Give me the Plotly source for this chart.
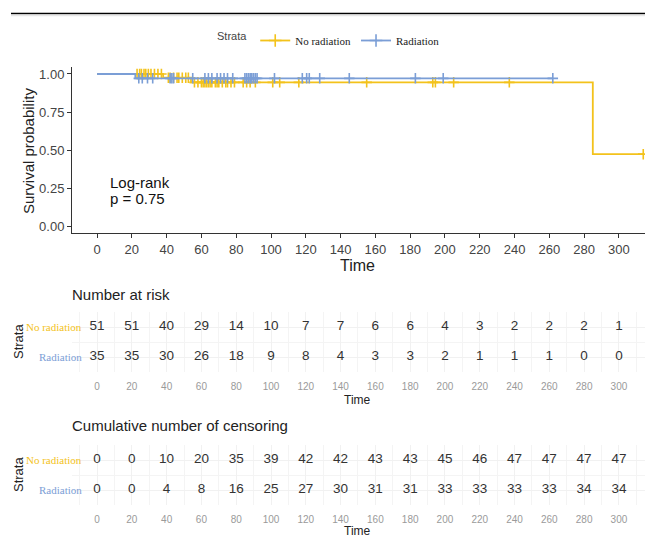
import plotly.graph_objects as go

W, H = 645, 537

# ---------------- data ----------------
groups = ["No radiation", "Radiation"]
colors = {"No radiation": "#F3C21B", "Radiation": "#7B9ED6"}

nr_event_times = [38, 54, 285]
nr_censor_times = [23, 24.5, 25.5, 27, 28, 29.5, 31, 33, 35, 37,
                   41, 42, 44, 46, 47, 49, 51, 52.5, 56, 58,
                   60, 61, 62, 63, 64, 65, 66, 68, 69, 70, 72, 74, 75, 77, 79,
                   84, 86, 88, 91, 101, 105, 116, 155, 193, 194.5, 205, 237, 314]
r_event_times = [22]
r_censor_times = [24, 26, 29, 32, 42, 43, 44, 55,
                  62, 64, 66, 69, 71, 73, 75, 78,
                  85, 86, 87, 88, 88.5, 89, 90, 91, 92,
                  102, 118, 120.5, 122, 128, 145, 183, 199, 262]

table_times = list(range(0, 301, 20))
risk_no = [51, 51, 40, 29, 14, 10, 7, 7, 6, 6, 4, 3, 2, 2, 2, 1]
risk_rad = [35, 35, 30, 26, 18, 9, 8, 4, 3, 3, 2, 1, 1, 1, 0, 0]
cens_no = [0, 0, 10, 20, 35, 39, 42, 42, 43, 43, 45, 46, 47, 47, 47, 47]
cens_rad = [0, 0, 4, 8, 16, 25, 27, 30, 31, 31, 33, 33, 33, 33, 34, 34]

y_ticks = [0, 0.25, 0.5, 0.75, 1.0]
y_ticktext = ["0.00", "0.25", "0.50", "0.75", "1.00"]
pval_text = ["Log-rank", "p = 0.75"]


def km(events, censors):
    times = sorted(set(events) | set(censors))
    at_risk = len(events) + len(censors)
    s = 1.0
    xs, ys, cx, cy = [0], [1.0], [], []
    for t in times:
        d = events.count(t)
        c = censors.count(t)
        if d:
            s *= (1 - d / at_risk)
            xs.append(t)
            ys.append(s)
        if c:
            cx += [t] * c
            cy += [s] * c
        at_risk -= d + c
    xs.append(max(times))
    ys.append(s)
    return xs, ys, cx, cy


SANS = "Liberation Sans, Arial, sans-serif"
SERIF = "Liberation Serif, serif"

fig = go.Figure()

curves = {
    "No radiation": km(nr_event_times, nr_censor_times),
    "Radiation": km(r_event_times, r_censor_times),
}

for g in groups:
    xs, ys, cx, cy = curves[g]
    fig.add_trace(go.Scatter(
        x=xs, y=ys, mode="lines", line=dict(color=colors[g], width=1.8, shape="hv"),
        showlegend=False, xaxis="x", yaxis="y", hoverinfo="skip"))
    fig.add_trace(go.Scatter(
        x=cx, y=cy, mode="markers", name=g,
        marker=dict(symbol="cross-thin", size=7.5, line=dict(color=colors[g], width=1.6), color=colors[g]),
        showlegend=False, xaxis="x", yaxis="y", cliponaxis=True))
    # legend entry
    fig.add_trace(go.Scatter(
        x=[None], y=[None], mode="lines+markers", name=g,
        line=dict(color=colors[g], width=1.8),
        marker=dict(symbol="cross-thin", size=9, line=dict(color=colors[g], width=1.6)),
        xaxis="x", yaxis="y"))

# tables
row_y = {"No radiation": 2, "Radiation": 1}
for vals, g, ax in [(risk_no, "No radiation", "2"), (risk_rad, "Radiation", "2"),
                    (cens_no, "No radiation", "3"), (cens_rad, "Radiation", "3")]:
    fig.add_trace(go.Scatter(
        x=table_times, y=[row_y[g]] * len(table_times), mode="text",
        text=[str(v) for v in vals], textfont=dict(family=SANS, size=13.5, color="#333333"),
        showlegend=False, xaxis="x" + ax, yaxis="y" + ax, hoverinfo="skip"))

xdom = [72 / W, 1.0]
xrange = [-14.4, 315]


def pdy(px):
    return 1 - px / H


main_x = dict(domain=xdom, range=xrange, tickvals=table_times, showline=True,
              linecolor="#333333", linewidth=1, ticks="outside", ticklen=4, tickcolor="#333333",
              tickfont=dict(family=SANS, size=13, color="#444444"), showgrid=False, zeroline=False,
              anchor="y")
main_y = dict(domain=[pdy(233), pdy(67)], range=[-0.046, 1.046], tickvals=y_ticks, ticktext=y_ticktext,
              showline=True, linecolor="#333333", linewidth=1, ticks="outside", ticklen=4,
              tickcolor="#333333", tickfont=dict(family=SANS, size=13, color="#444444"),
              showgrid=False, zeroline=False, anchor="x")


def table_x(anchor):
    return dict(domain=xdom, range=xrange, tickvals=table_times, showline=False, ticks="outside",
                ticklen=5, tickcolor="rgba(0,0,0,0)",
                tickfont=dict(family=SANS, size=10, color="#9a9a9a"),
                showgrid=True, gridcolor="#f1f1f1", gridwidth=1, zeroline=False, anchor=anchor,
                minor=dict(tickvals=[t - 10 for t in table_times] + [310], showgrid=True,
                           gridcolor="#f4f4f4", gridwidth=1, ticks=""))


def table_y(dom, anchor):
    return dict(domain=dom, range=[0.5, 2.5], tickvals=[1, 2], showticklabels=False, showline=False,
                showgrid=True, gridcolor="#f1f1f1", zeroline=False, anchor=anchor,
                minor=dict(tickvals=[1.5], showgrid=True, gridcolor="#f4f4f4", ticks=""))


annotations = []


def ann(text, xpx, ypx, size, color="#222222", font=SANS, xanchor="center", angle=0):
    annotations.append(dict(text=text, x=xpx / W, y=pdy(ypx), xref="paper", yref="paper",
                            showarrow=False, xanchor=xanchor, yanchor="middle", textangle=angle,
                            font=dict(family=font, size=size, color=color)))


# main titles
ann("Survival probability", 28, 151, 15, angle=-90)
ann("Time", 357, 265, 16)
annotations.append(dict(text=pval_text[0], x=6.3, y=0.283, xref="x", yref="y", showarrow=False,
                        xanchor="left", yanchor="middle", font=dict(family=SANS, size=15, color="#111111")))
annotations.append(dict(text=pval_text[1], x=6.3, y=0.184, xref="x", yref="y", showarrow=False,
                        xanchor="left", yanchor="middle", font=dict(family=SANS, size=15, color="#111111")))

# risk table
ann("Number at risk", 70, 294, 15, xanchor="left")
ann("Strata", 18, 342, 13, angle=-90)
ann("Time", 357, 400, 12)
ann("No radiation", 84, 327, 11, color=colors["No radiation"], font=SERIF, xanchor="right")
ann("Radiation", 84, 357, 11, color=colors["Radiation"], font=SERIF, xanchor="right")

# censoring table
ann("Cumulative number of censoring", 70, 425, 15, xanchor="left")
ann("Strata", 18, 475, 13, angle=-90)
ann("Time", 357, 531, 12)
ann("No radiation", 84, 460, 11, color=colors["No radiation"], font=SERIF, xanchor="right")
ann("Radiation", 84, 490, 11, color=colors["Radiation"], font=SERIF, xanchor="right")

shapes = [
    dict(type="line", xref="paper", yref="paper", x0=11 / W, x1=1, y0=pdy(13.5), y1=pdy(13.5),
         line=dict(color="#000000", width=1.5)),
    dict(type="line", xref="paper", yref="paper", x0=11 / W, x1=1, y0=pdy(15.5), y1=pdy(15.5),
         line=dict(color="#e6e6e6", width=1.5)),
]

fig.update_layout(
    width=W, height=H, margin=dict(l=0, r=0, t=0, b=0),
    paper_bgcolor="white", plot_bgcolor="white",
    xaxis=main_x, yaxis=main_y,
    xaxis2=table_x("y2"), yaxis2=table_y([pdy(372), pdy(312)], "x2"),
    xaxis3=table_x("y3"), yaxis3=table_y([pdy(505), pdy(445)], "x3"),
    annotations=annotations, shapes=shapes,
    legend=dict(orientation="h", x=215 / W, y=pdy(26), xanchor="left", yanchor="top",
                title=dict(text="Strata", font=dict(family=SANS, size=11, color="#444444")),
                font=dict(family=SERIF, size=11, color="#222222"), itemwidth=30,
                bgcolor="rgba(0,0,0,0)"),
    showlegend=True,
)

fig.write_html("out.html", config={"displayModeBar": False},
               post_script="document.body.style.margin='0px';")
